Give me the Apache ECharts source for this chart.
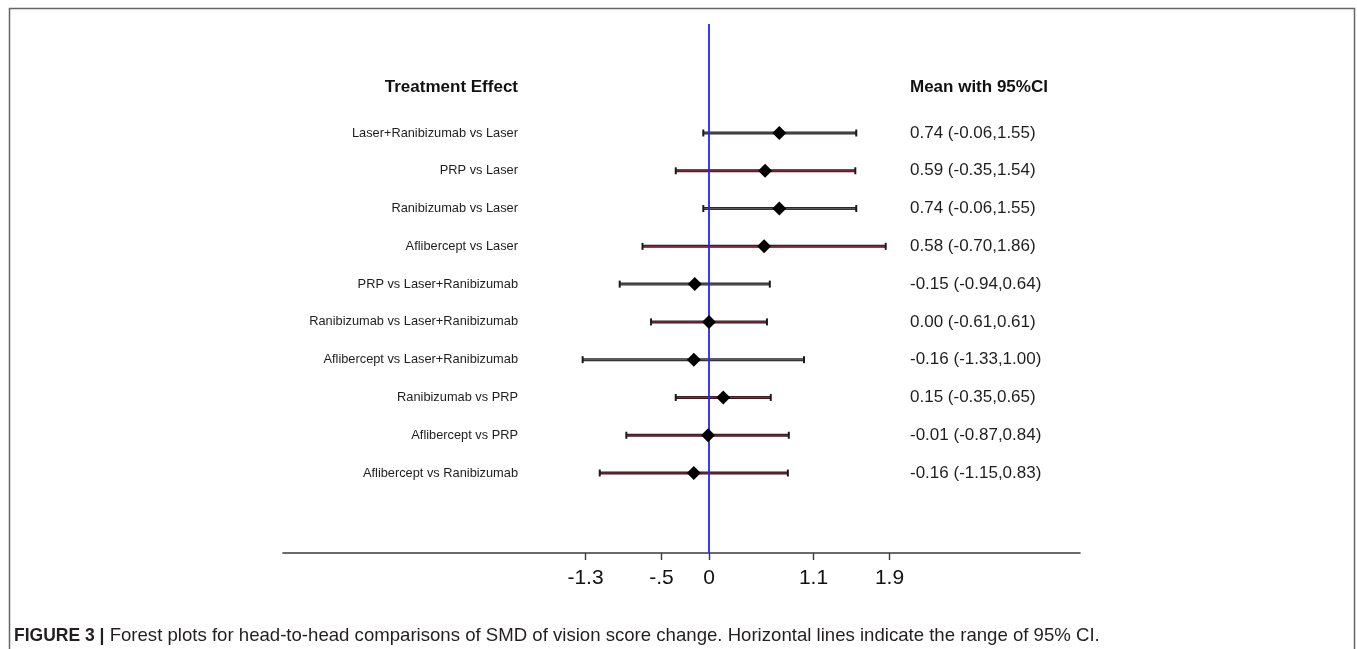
<!DOCTYPE html>
<html>
<head>
<meta charset="utf-8">
<script src="https://cdn.jsdelivr.net/npm/echarts@6/dist/echarts.min.js"></script>
<style>
html,body{margin:0;padding:0;background:#fff;}
#chart{width:1357px;height:649px;}
</style>
</head>
<body>
<div id="chart"></div>
<script>
// ---- data ----
const comparisons = [
  'Laser+Ranibizumab vs Laser',
  'PRP vs Laser',
  'Ranibizumab vs Laser',
  'Aflibercept vs Laser',
  'PRP vs Laser+Ranibizumab',
  'Ranibizumab vs Laser+Ranibizumab',
  'Aflibercept vs Laser+Ranibizumab',
  'Ranibizumab vs PRP',
  'Aflibercept vs PRP',
  'Aflibercept vs Ranibizumab'
];
const means = [0.74, 0.59, 0.74, 0.58, -0.15, 0.00, -0.16, 0.15, -0.01, -0.16];
const lower = [-0.06, -0.35, -0.06, -0.70, -0.94, -0.61, -1.33, -0.35, -0.87, -1.15];
const upper = [1.55, 1.54, 1.55, 1.86, 0.64, 0.61, 1.00, 0.65, 0.84, 0.83];
const tickValues = [-1.3, -0.5, 0, 1.1, 1.9];
const tickLabels = ['-1.3', '-.5', '0', '1.1', '1.9'];

// ---- styles ----
const GRAYROW = {outer: '#2a2728', inner: '#5e5759'};
const REDROW = {outer: '#35161d', inner: '#862a3b'};
const rowStyles = [GRAYROW, REDROW, GRAYROW, REDROW, GRAYROW, REDROW, GRAYROW, REDROW, REDROW, REDROW];
const LABEL_RIGHT_X = 518, VALUE_LEFT_X = 910;
const TXT = '#1e1e1e';
const FONT = "'Liberation Sans', Arial, Helvetica, sans-serif";

const fmt = v => v.toFixed(2);
const rowData = comparisons.map((c, i) => [lower[i], upper[i], i + 1, means[i], i]);
const pointData = comparisons.map((c, i) => [means[i], i + 1]);

const chart = echarts.init(document.getElementById('chart'), null, {renderer: 'canvas'});
chart.setOption({
  backgroundColor: '#fff',
  animation: false,
  grid: {left: 283, right: 277, top: 24, bottom: 96},
  xAxis: {
    type: 'value', min: -4.484, max: 3.905,
    splitLine: {show: false},
    axisLine: {show: true, onZero: false, lineStyle: {color: '#3a3a3a', width: 1.6}},
    axisTick: {show: true, customValues: tickValues, length: 7, lineStyle: {color: '#3a3a3a', width: 1.4}},
    axisLabel: {
      customValues: tickValues, margin: 15,
      formatter: v => tickLabels[tickValues.findIndex(t => Math.abs(t - v) < 1e-9)],
      color: '#111', fontSize: 21,
      fontFamily: FONT
    }
  },
  yAxis: {type: 'value', show: false, inverse: true, min: -1.885, max: 12.117},
  graphic: [
    {type: 'rect', shape: {x: 9.5, y: 8.5, width: 1345, height: 700},
     style: {fill: 'none', stroke: '#666', lineWidth: 1.5}, silent: true},
    {type: 'text', x: LABEL_RIGHT_X, y: 87,
     style: {text: 'Treatment Effect', align: 'right', verticalAlign: 'middle',
       font: "bold 17px " + FONT, fill: '#111'}},
    {type: 'text', x: VALUE_LEFT_X, y: 87,
     style: {text: 'Mean with 95%CI', align: 'left', verticalAlign: 'middle',
       font: "bold 17px " + FONT, fill: '#111'}},
    {type: 'text', x: 14, y: 636,
     style: {
       text: '{b|FIGURE 3 |} Forest plots for head-to-head comparisons of SMD of vision score change. Horizontal lines indicate the range of 95% CI.',
       verticalAlign: 'middle',
       font: "18.6px " + FONT, fill: '#231f20',
       rich: {b: {font: "bold 17.5px " + FONT, fill: '#231f20'}}
     }}
  ],
  series: [
    {
      type: 'custom',
      data: rowData,
      encode: {x: [0, 1], y: 2},
      renderItem: (params, api) => {
        const i = api.value(4);
        const y = api.value(2);
        const p1 = api.coord([api.value(0), y]);
        const p2 = api.coord([api.value(1), y]);
        const s = rowStyles[i];
        return {
          type: 'group',
          children: [
            {type: 'line', shape: {x1: p1[0], y1: p1[1], x2: p2[0], y2: p2[1]}, style: {stroke: s.outer, lineWidth: 3}},
            {type: 'line', shape: {x1: p1[0], y1: p1[1], x2: p2[0], y2: p2[1]}, style: {stroke: s.inner, lineWidth: 1.2}},
            {type: 'line', shape: {x1: p1[0], y1: p1[1] - 3.5, x2: p1[0], y2: p1[1] + 3.5}, style: {stroke: '#1a1a1a', lineWidth: 2}},
            {type: 'line', shape: {x1: p2[0], y1: p2[1] - 3.5, x2: p2[0], y2: p2[1] + 3.5}, style: {stroke: '#1a1a1a', lineWidth: 2}},
            {type: 'text', x: LABEL_RIGHT_X, y: p1[1],
             style: {text: comparisons[i], align: 'right', verticalAlign: 'middle',
               font: "12.8px " + FONT, fill: TXT}},
            {type: 'text', x: VALUE_LEFT_X, y: p1[1],
             style: {text: fmt(means[i]) + ' (' + fmt(lower[i]) + ',' + fmt(upper[i]) + ')',
               align: 'left', verticalAlign: 'middle', font: "17px " + FONT, fill: TXT}}
          ]
        };
      },
      markLine: {
        silent: true, symbol: 'none', label: {show: false},
        lineStyle: {color: '#2424ff', width: 1.8, type: 'solid'},
        data: [{xAxis: 0}]
      },
      z: 2
    },
    {
      type: 'scatter',
      data: pointData,
      symbol: 'diamond',
      symbolSize: [14, 14],
      itemStyle: {color: '#000', opacity: 1},
      z: 5
    }
  ]
});
</script>
</body>
</html>
